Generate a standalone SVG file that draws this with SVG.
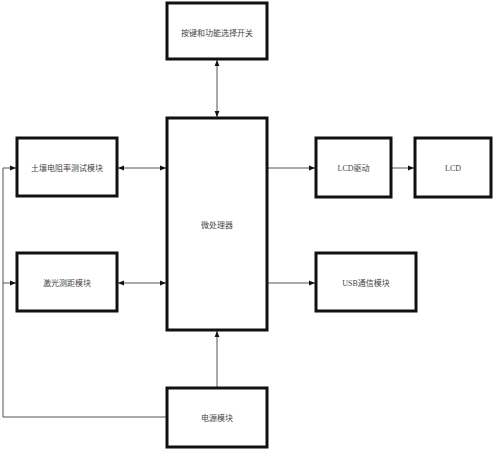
<svg xmlns="http://www.w3.org/2000/svg" width="493" height="450" viewBox="0 0 493 450">
<style>
.box{fill:#fff;stroke:#111;stroke-width:3}
.t{font-family:"Liberation Serif","Noto Sans CJK SC",serif;font-size:8px;fill:#444;text-anchor:middle;dominant-baseline:central}
.c{fill:none;stroke:#555;stroke-width:1}
</style>
<defs>
<marker id="ah" viewBox="0 0 10 10" refX="10" refY="5" markerWidth="6" markerHeight="6" orient="auto-start-reverse" markerUnits="userSpaceOnUse">
<path d="M0,1 L10,5 L0,9 z" fill="#111"/>
</marker>
</defs>
<rect width="493" height="450" fill="#fff"/>
<g id="connectors">
<line class="c" x1="217" y1="60" x2="217" y2="117" marker-start="url(#ah)" marker-end="url(#ah)"/>
<line class="c" x1="118" y1="168" x2="166" y2="168" marker-start="url(#ah)" marker-end="url(#ah)"/>
<line class="c" x1="118" y1="283" x2="166" y2="283" marker-start="url(#ah)" marker-end="url(#ah)"/>
<line class="c" x1="268" y1="168" x2="315" y2="168" marker-end="url(#ah)"/>
<line class="c" x1="392" y1="168" x2="414" y2="168" marker-end="url(#ah)"/>
<line class="c" x1="268" y1="283" x2="315" y2="283" marker-end="url(#ah)"/>
<line class="c" x1="217" y1="387" x2="217" y2="331" marker-end="url(#ah)"/>
<polyline class="c" points="166,417 3,417 3,168 16,168" marker-end="url(#ah)"/>
<line class="c" x1="3" y1="283" x2="16" y2="283" marker-end="url(#ah)"/>
</g>
<g id="keys">
<rect class="box" x="167" y="3" width="100" height="56"/>
<text class="t" x="217" y="33">按键和功能选择开关</text>
</g>
<g id="mcu">
<rect class="box" x="167" y="118" width="100" height="212"/>
<text class="t" x="217" y="225">微处理器</text>
</g>
<g id="soil">
<rect class="box" x="17" y="138" width="100" height="58"/>
<text class="t" x="67" y="168">土壤电阻率测试模块</text>
</g>
<g id="laser">
<rect class="box" x="17" y="253" width="100" height="58"/>
<text class="t" x="67" y="283">激光测距模块</text>
</g>
<g id="lcddrv">
<rect class="box" x="316" y="138" width="75" height="59"/>
<text class="t" x="353.5" y="168">LCD驱动</text>
</g>
<g id="lcd">
<rect class="box" x="415" y="138" width="76" height="59"/>
<text class="t" x="453" y="168">LCD</text>
</g>
<g id="usb">
<rect class="box" x="316" y="253" width="100" height="58"/>
<text class="t" x="366" y="283">USB通信模块</text>
</g>
<g id="power">
<rect class="box" x="167" y="388" width="100" height="59"/>
<text class="t" x="217" y="418">电源模块</text>
</g>
</svg>
